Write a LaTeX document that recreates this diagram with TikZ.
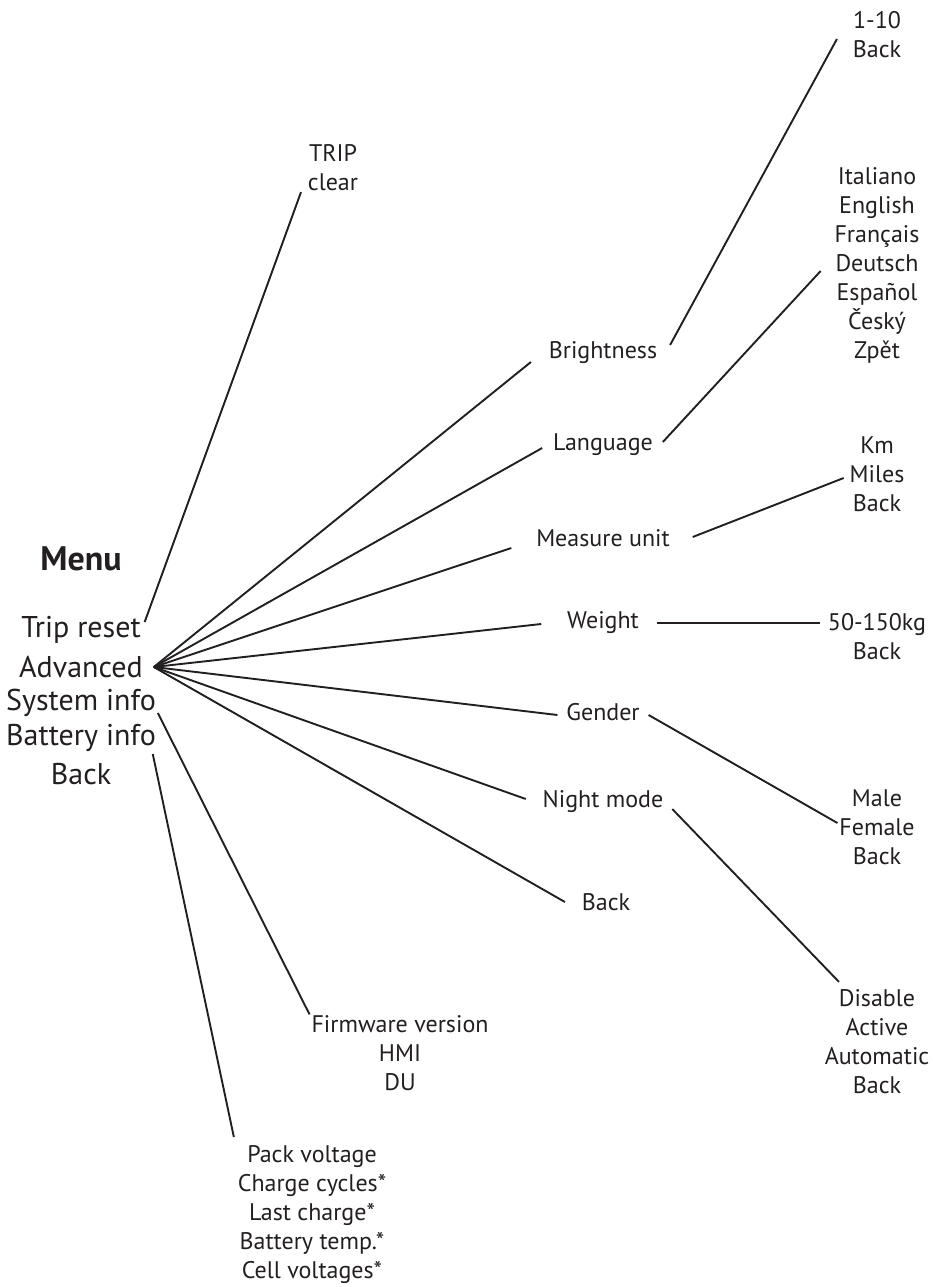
\documentclass[tikz,border=0pt]{standalone}
\usepackage{fontspec}
\setmainfont{PT Sans}
\usepackage{tikz}
\definecolor{ink}{HTML}{231F20}

\begin{document}
\begin{tikzpicture}[x=1pt, y=-1pt, color=ink, line width=1.9pt,
    item/.style={font=\fontsize{30}{36}\selectfont, inner sep=0pt},
    sub/.style={font=\fontsize{24}{29}\selectfont, align=center, inner sep=0pt}]
    \useasboundingbox (0,0) rectangle (933,1287);

    % Main menu
    \node [item, font=\bfseries\fontsize{34}{36}\selectfont] (menu) at (81,559) {Menu};
    \node [item]    (trip)    at (81,630)   {Trip reset};
    \node [item]    (adv)     at (81,667)   {Advanced};
    \node [item]    (sys)     at (81,703)   {System info};
    \node [item]    (bat)     at (81,738)   {Battery info};
    \node [item]    (mback)   at (81,774)   {Back};

    % Advanced entries
    \node [sub]     (bright)  at (603,353)  {Brightness};
    \node [sub]     (lang)    at (603,445)  {Language};
    \node [sub]     (unit)    at (603,538)  {Measure unit};
    \node [sub]     (weight)  at (603,623)  {Weight};
    \node [sub]     (gender)  at (603,712)  {Gender};
    \node [sub]     (night)   at (603,802)  {Night mode};
    \node [sub]     (aback)   at (606,902)  {Back};

    % Values
    \node [sub]     (tripclr) at (333,168)  {TRIP\\clear};
    \node [sub]     (brval)   at (877,35)   {1-10\\Back};
    \node [sub]     (langs)   at (877,265)  {Italiano\\English\\Français\\Deutsch\\Español\\Český\\Zpět};
    \node [sub]     (units)   at (877,474)  {Km\\Miles\\Back};
    \node [sub]     (wval)    at (877,637)  {50-150kg\\Back};
    \node [sub]     (genders) at (877,827)  {Male\\Female\\Back};
    \node [sub]     (nights)  at (877,1042) {Disable\\Active\\Automatic\\Back};
    \node [sub]     (fw)      at (400,1053) {Firmware version\\HMI\\DU};
    \node [sub]     (batt)    at (312,1215) {Pack voltage\\Charge cycles*\\Last charge*\\Battery temp.*\\Cell voltages*};

    \coordinate (fan) at ([xshift=10pt]adv.east);

    % Paths
    \path [draw] ([shift={(3,-8)}]trip.east)  -- ([xshift=-6pt]tripclr.south west);
    \path [draw] (fan) -- ([shift={(-17,9)}]bright.west);
    \path [draw] (fan) -- ([shift={(-10,3)}]lang.west);
    \path [draw] (fan) -- ([shift={(-24,10)}]unit.west);
    \path [draw] (fan) -- ([shift={(-25,1)}]weight.west);
    \path [draw] (fan) -- ([shift={(-8,3)}]gender.west);
    \path [draw] (fan) -- ([shift={(-16,-3)}]night.west);
    \path [draw] (fan) -- ([xshift=-16pt]aback.west);
    \path [draw] ([shift={(1,10)}]sys.east)   -- ([xshift=-1pt]fw.north west);
    \path [draw] ([shift={(-4,16)}]bat.east)  -- ([shift={(-3,-8)}]batt.north west);

    \path [draw] ([shift={(12,-8)}]bright.east) -- ([shift={(-15,4)}]brval.west);
    \path [draw] ([shift={(9,-3)}]lang.east)    -- ([shift={(-13,6)}]langs.west);
    \path [draw] ([shift={(22,-1)}]unit.east)   -- ([shift={(-5,4)}]units.west);
    \path [draw] ([xshift=17pt]weight.east)     -- ([shift={(-7,-14)}]wval.west);
    \path [draw] ([shift={(8,3)}]gender.east)   -- ([shift={(-1,-4)}]genders.west);
    \path [draw] ([shift={(8,7)}]night.east)    -- ([shift={(-38,-7)}]nights.north);
\end{tikzpicture}
\end{document}
